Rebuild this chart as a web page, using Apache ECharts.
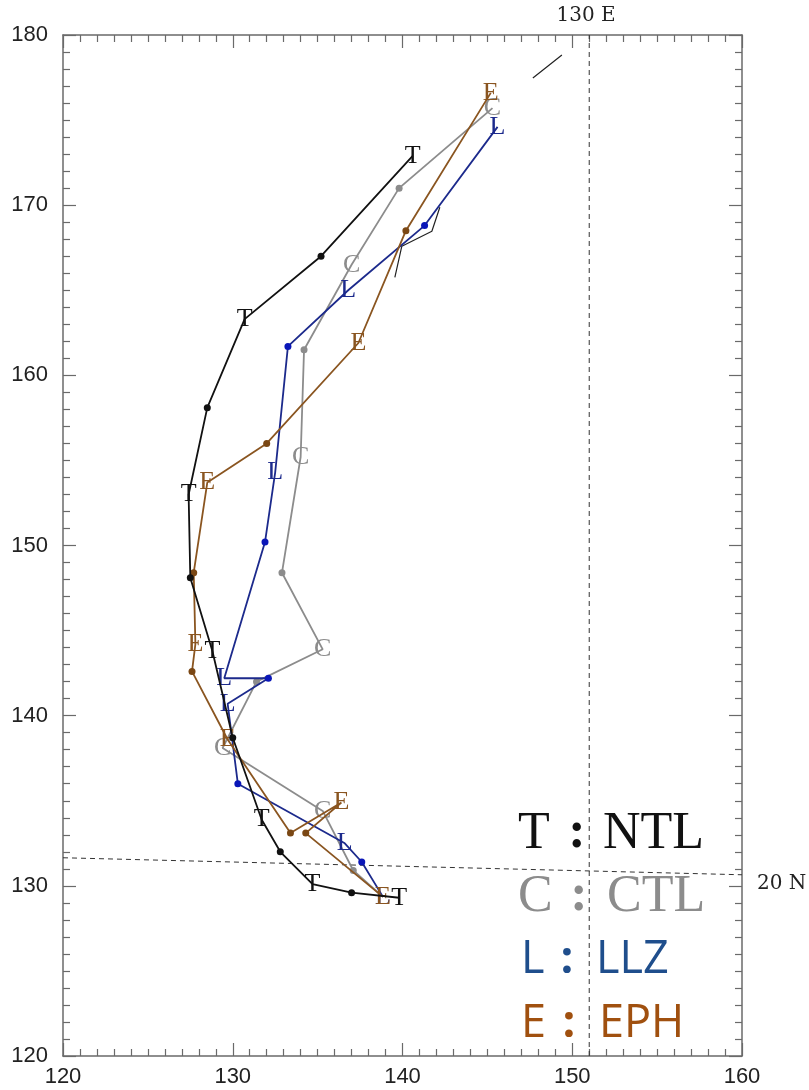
<!DOCTYPE html>
<html>
<head>
<meta charset="utf-8">
<script src="https://cdn.jsdelivr.net/npm/echarts@6/dist/echarts.min.js"></script>
<style>
html,body{margin:0;padding:0;background:#fff;}
#chart{width:809px;height:1090px;}
</style>
</head>
<body>
<div id="chart"></div>
<script>
// ---- data (lon °E shown on x-axis scale, lat on y-axis scale) ----
const xTicks = [120, 130, 140, 150, 160];
const yTicks = [120, 130, 140, 150, 160, 170, 180];

// NTL track (T)
const ntlLon  = [139.8, 137.0, 134.7, 132.8, 131.7, 130.0, 128.8, 127.5, 127.4, 128.5, 130.7, 135.2, 140.6];
const ntlLat  = [129.3, 129.6, 130.1, 132.0, 133.9, 138.7, 143.8, 148.1, 153.0, 158.1, 163.3, 167.0, 172.9];
const ntlMark = ['T', '.', 'T', '.', 'T', '.', 'T', '.', 'T', '.', 'T', '.', 'T'];

// CTL track (C)
const ctlLon  = [138.85, 137.1, 135.3, 129.4, 131.4, 135.3, 132.9, 134.0, 134.2, 137.0, 139.8, 145.3];
const ctlLat  = [129.35, 130.9, 134.4, 138.1, 142.0, 143.9, 148.4, 155.2, 161.5, 166.5, 171.0, 175.7];
const ctlMark = ['', '.', 'C', 'C', '.', 'C', '.', 'C', '.', 'C', '.', 'C'];

// LLZ track (L)
const llzLon  = [138.85, 137.6, 136.6, 130.3, 129.7, 132.1, 129.5, 131.9, 132.5, 133.25, 136.8, 141.3, 145.6];
const llzLat  = [129.35, 131.4, 132.5, 136.0, 140.7, 142.2, 142.2, 150.2, 154.3, 161.7, 165.0, 168.8, 174.6];
const llzMark = ['L', '.', 'L', '.', 'L', '.', 'L', '.', 'L', '.', 'L', '.', 'L'];

// EPH track (E)
const ephLon  = [138.85, 134.3, 136.4, 133.4, 129.7, 127.6, 127.8, 127.7, 128.5, 132.0, 137.4, 140.2, 145.2];
const ephLat  = [129.35, 133.1, 134.9, 133.1, 138.6, 142.6, 144.2, 148.4, 153.7, 156.0, 161.9, 168.5, 176.6];
const ephMark = ['E', '.', 'E', '.', 'E', '.', 'E', '.', 'E', '.', 'E', '.', 'E'];

// thin black fragments (observed track pieces)
const obsLon = [139.55, 139.96, 141.73, 142.2, null, 147.68, 149.39];
const obsLat = [165.76, 167.59, 168.47, 169.88, null, 177.47, 178.82];

// reference lines: 130E meridian and 20N parallel as drawn
const meridianLon = [151, 151];
const meridianLat = [120, 180];
const parallelLon = [120, 160];
const parallelLat = [131.65, 130.65];

const legendItems = [
  { key: 'T', name: 'NTL' },
  { key: 'C', name: 'CTL' },
  { key: 'L', name: 'LLZ' },
  { key: 'E', name: 'EPH' }
];

// ---- styles ----
const COLORS = {
  T: { line: '#111111', dot: '#111111', text: '#111111' },
  C: { line: '#8c8c8c', dot: '#8c8c8c', text: '#8c8c8c' },
  L: { line: '#1c2a8c', dot: '#0a16b8', text: '#1f4e8c' },
  E: { line: '#8a5520', dot: '#7a4714', text: '#a0500f' }
};

function buildTrack(lons, lats, marks) {
  return lons.map((x, i) => {
    const m = marks[i];
    const isLetter = m !== '.' && m !== '';
    return {
      value: [x, lats[i]],
      symbolSize: m === '.' ? 7 : 0,
      label: { show: isLetter, formatter: m }
    };
  });
}

function trackSeries(key, lons, lats, marks, z) {
  const c = COLORS[key];
  return {
    type: 'line',
    xAxisIndex: 0, yAxisIndex: 0,
    data: buildTrack(lons, lats, marks),
    symbol: 'circle',
    showSymbol: true,
    showAllSymbol: true,
    lineStyle: { color: c.line, width: 1.8 },
    itemStyle: { color: c.dot },
    label: {
      position: 'inside',
      color: c.line,
      fontFamily: 'Liberation Serif',
      fontSize: 26
    },
    z: z,
    silent: true
  };
}

const axisLine = { show: true, lineStyle: { color: '#6a6a6a', width: 1.5 } };
const tickCommon = { show: true, inside: true, length: 13, lineStyle: { color: '#6a6a6a', width: 1.2 } };
const minorCommon = { show: true, splitNumber: 10, length: 7, lineStyle: { color: '#6a6a6a', width: 1.2 } };
const labelFont = { fontFamily: 'Liberation Sans', fontSize: 22, color: '#222' };

const option = {
  animation: false,
  backgroundColor: '#ffffff',
  grid: { left: 63, right: 67, top: 35, bottom: 34, containLabel: false },
  xAxis: [
    {
      type: 'value', position: 'bottom', min: xTicks[0], max: xTicks[xTicks.length - 1], interval: 10,
      axisLine, axisTick: tickCommon, minorTick: minorCommon,
      axisLabel: Object.assign({ margin: 10 }, labelFont),
      splitLine: { show: false }
    },
    {
      type: 'value', position: 'top', min: xTicks[0], max: xTicks[xTicks.length - 1], interval: 10,
      axisLine, axisTick: tickCommon, minorTick: minorCommon,
      axisLabel: { show: false }, splitLine: { show: false }
    }
  ],
  yAxis: [
    {
      type: 'value', position: 'left', min: yTicks[0], max: yTicks[yTicks.length - 1], interval: 10,
      axisLine, axisTick: tickCommon, minorTick: minorCommon,
      axisLabel: Object.assign({ margin: 15 }, labelFont),
      splitLine: { show: false }
    },
    {
      type: 'value', position: 'right', min: yTicks[0], max: yTicks[yTicks.length - 1], interval: 10,
      axisLine, axisTick: tickCommon, minorTick: minorCommon,
      axisLabel: { show: false }, splitLine: { show: false }
    }
  ],
  series: [
    {
      type: 'line', data: meridianLon.map((x, i) => [x, meridianLat[i]]),
      symbol: 'none', lineStyle: { color: '#333', width: 1, type: [5, 4] }, z: 1, silent: true
    },
    {
      type: 'line', data: parallelLon.map((x, i) => [x, parallelLat[i]]),
      symbol: 'none', lineStyle: { color: '#333', width: 1, type: [5, 4] }, z: 1, silent: true
    },
    {
      type: 'line', data: obsLon.map((x, i) => x === null ? ['-', '-'] : [x, obsLat[i]]),
      symbol: 'none', connectNulls: false, lineStyle: { color: '#222', width: 1.2 }, z: 2, silent: true
    },
    trackSeries('C', ctlLon, ctlLat, ctlMark, 3),
    trackSeries('L', llzLon, llzLat, llzMark, 4),
    trackSeries('E', ephLon, ephLat, ephMark, 5),
    trackSeries('T', ntlLon, ntlLat, ntlMark, 6)
  ],
  graphic: []
};

// annotations
option.graphic.push({
  type: 'text', x: 586, y: 16,
  style: { text: '130 E', font: '20px "DejaVu Serif"', fill: '#222', textAlign: 'center', textVerticalAlign: 'middle' }
});
option.graphic.push({
  type: 'text', x: 757, y: 884,
  style: { text: '20 N', font: '20px "DejaVu Serif"', fill: '#222', textAlign: 'left', textVerticalAlign: 'middle' }
});

// legend block (text); y = vertical centre of the capitals
const legendLayout = [
  { x: 518, colon: 577, nameX: 603, cy: 834, font: '52px "Liberation Serif"' },
  { x: 518, colon: 579, nameX: 607, cy: 897, font: '52px "Liberation Serif"' },
  { x: 521, colon: 567, nameX: 596, cy: 960, font: '45px "Open Sans"' },
  { x: 521, colon: 569, nameX: 599, cy: 1024, font: '45px "Open Sans"' }
];
legendItems.forEach((it, i) => {
  const L = legendLayout[i];
  const col = COLORS[it.key].text;
  option.graphic.push({ type: 'text', x: L.x, y: L.cy, z: 100,
    style: { text: it.key, font: L.font, fill: col, textAlign: 'left', textVerticalAlign: 'middle' } });
  option.graphic.push({ type: 'text', x: L.colon, y: L.cy, z: 100,
    style: { text: ':', font: 'bold ' + L.font, fill: col, textAlign: 'center', textVerticalAlign: 'middle' } });
  option.graphic.push({ type: 'text', x: L.nameX, y: L.cy, z: 100,
    style: { text: it.name, font: L.font, fill: col, textAlign: 'left', textVerticalAlign: 'middle' } });
});

const chart = echarts.init(document.getElementById('chart'), null, { renderer: 'canvas' });
chart.setOption(option);
</script>
</body>
</html>
